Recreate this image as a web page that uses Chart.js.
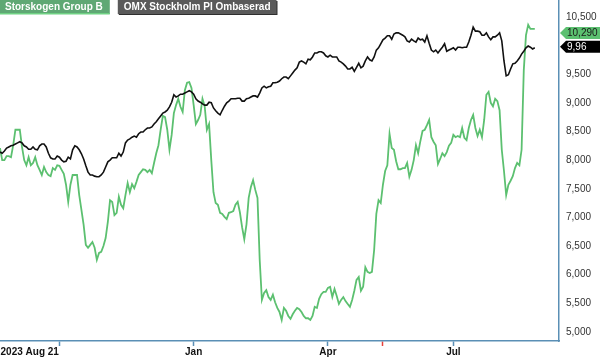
<!DOCTYPE html>
<html><head><meta charset="utf-8">
<script src="https://cdn.jsdelivr.net/npm/chart.js@4"></script>
<style>html,body{margin:0;padding:0;background:#fff;overflow:hidden}canvas{display:block}</style>
</head><body>
<canvas id="c" width="600" height="357"></canvas>
<script>
// one sample per trading day, starting 2023-08-21
const storskogen = [
8210,8000,8000,8070,8070,8050,8260,8530,8530,8530,
8230,8000,7910,8050,7910,7950,8050,7910,7830,7740,
7880,7790,7740,7720,7860,7830,7910,7900,7830,7760,
7570,7270,7570,7740,7740,7740,7390,7130,6870,6520,
6470,6520,6570,6470,6260,6380,6400,6500,6640,6920,
7300,7270,7040,7080,7360,7220,7160,7390,7600,7440,
7580,7510,7620,7740,7790,7840,7830,7790,7830,7770,
7950,8120,8260,8530,8770,8750,8530,8180,8440,8820,
8960,9070,8930,8840,9220,9350,9360,9260,8960,8630,
8700,8790,9070,8940,8530,8630,8000,7440,7250,7220,
7080,7060,7010,6970,7080,7090,7110,7220,7270,7090,
6830,6620,6880,7340,7530,7650,7480,7340,6260,5560,
5680,5730,5610,5560,5650,5520,5420,5350,5210,5420,
5370,5280,5230,5310,5370,5420,5400,5350,5280,5240,
5240,5210,5280,5440,5420,5580,5660,5700,5700,5770,
5790,5610,5750,5630,5490,5560,5610,5540,5490,5440,
5560,5720,5910,5960,5720,5790,6130,6050,6030,6050,
6430,7060,7300,7250,7570,7810,7910,8460,8210,8180,
7980,7840,7840,7860,7860,7950,7710,7830,8000,8260,
8120,8330,8510,8530,8610,8700,8400,8320,8260,7930,
8020,8120,8070,8140,8250,8300,8440,8400,8420,8400,
8560,8390,8350,8560,8700,8790,8560,8420,8530,8400,
8700,9140,9190,9000,8940,9070,9030,8870,8180,7810,
7390,7570,7640,7720,7860,7950,7910,8180,9570,10180,
10360,10290,10290,10290
];
const omxRebased = [
8140,8120,8160,8210,8230,8250,8260,8280,8300,8320,
8300,8250,8230,8190,8190,8230,8190,8180,8250,8280,
8280,8230,8120,8040,8020,8020,8070,8050,8000,7970,
7980,8050,8020,8180,8250,8230,8180,8110,8020,7900,
7790,7740,7740,7720,7710,7710,7740,7790,7880,7970,
8000,8040,8040,8040,8120,8070,8140,8300,8350,8370,
8400,8420,8400,8460,8490,8490,8530,8560,8560,8580,
8630,8670,8720,8770,8820,8840,8870,8930,9010,9140,
9100,9120,9150,9150,9170,9190,9210,9190,9150,9070,
9030,9010,8980,8960,8960,9010,9000,8910,8860,8820,
8790,8870,8940,9000,9030,9070,9070,9070,9080,9080,
9030,9030,9070,9080,9100,9120,9120,9100,9170,9260,
9290,9260,9280,9290,9350,9350,9360,9380,9420,9450,
9450,9420,9470,9520,9570,9610,9710,9730,9710,9680,
9760,9750,9800,9870,9870,9890,9890,9870,9820,9800,
9830,9800,9800,9800,9730,9710,9680,9640,9590,9590,
9620,9550,9620,9690,9610,9640,9730,9800,9750,9730,
9800,9920,9960,10030,10100,10130,10170,10170,10110,10200,
10220,10220,10200,10180,10150,10080,10060,10110,10080,10060,
10130,10100,10110,10060,10170,10040,9920,9890,9920,9870,
9920,9970,10030,9900,9920,9940,9960,9920,9970,9970,
9960,9970,9970,10060,10180,10320,10250,10250,10240,10180,
10180,10220,10150,10100,10150,10150,10180,10220,10080,9730,
9470,9490,9590,9680,9690,9730,9780,9850,9900,9960,
9990,9970,9940,9960
];
const seriesNames = ['Storskogen Group B', 'OMX Stockholm PI Ombaserad'];
// x ticks in trading days from start
const xTickDays = [13.5, 27, 88, 149, 174, 206];
const xTickLabels = ['2023 Aug 21', '', 'Jan', 'Apr', '', 'Jul'];
const xAxisDays = [0, 254];
const yTickValues = [5000, 5500, 6000, 6500, 7000, 7500, 8000, 8500, 9000, 9500, 10500];
const yRange = [4843, 10794];
const lastLabels = ['10,290', '9,96'];

const FONT = '"Liberation Sans", Arial, sans-serif';
const AXIS = '#5a8fb5';
const GREEN = '#5cc070';

const toPoints = arr => arr.map((v, i) => ({x: i, y: v}));
const noPad = s => { s.paddingTop = 0; s.paddingBottom = 0; s.paddingLeft = 0; s.paddingRight = 0; };

const overlay = {
  id: 'overlay',
  afterDraw(chart) {
    const ctx = chart.ctx, ys = chart.scales.y, ca = chart.chartArea;
    ctx.save();
    // legend boxes
    ctx.font = 'bold 10px ' + FONT;
    ctx.textBaseline = 'middle';
    ctx.textAlign = 'left';
    const w1 = ctx.measureText(seriesNames[0]).width + 12;
    ctx.fillStyle = '#5fa874';
    ctx.fillRect(0, 0, w1, 14);
    ctx.fillStyle = '#6fd283';
    ctx.fillRect(0, 13, w1, 1.5);
    ctx.fillStyle = '#fff';
    ctx.fillText(seriesNames[0], 5, 7);
    const x2 = w1 + 8;
    const w2 = ctx.measureText(seriesNames[1]).width + 12;
    ctx.fillStyle = '#2e2e2e';
    ctx.fillRect(x2 + 1, 1, w2, 14);
    ctx.fillStyle = '#5a5a5a';
    ctx.fillRect(x2, 0, w2, 14);
    ctx.fillStyle = '#fff';
    ctx.fillText(seriesNames[1], x2 + 6, 7);
    // last value badges
    const badge = (yc, bg, fg, text) => {
      const l = ca.right + 1;
      ctx.beginPath();
      ctx.moveTo(l, yc);
      ctx.lineTo(l + 6, yc - 6);
      ctx.lineTo(600, yc - 6);
      ctx.lineTo(600, yc + 6);
      ctx.lineTo(l + 6, yc + 6);
      ctx.closePath();
      ctx.fillStyle = bg;
      ctx.fill();
      ctx.fillStyle = fg;
      ctx.font = '10px ' + FONT;
      ctx.fillText(text, ca.right + 8, yc + 0.5);
    };
    badge(ys.getPixelForValue(storskogen[storskogen.length - 1]) + 4, GREEN, '#1a1a1a', lastLabels[0]);
    badge(ys.getPixelForValue(omxRebased[omxRebased.length - 1]) - 1, '#000', '#fff', lastLabels[1]);
    ctx.restore();
  }
};

new Chart(document.getElementById('c'), {
  type: 'line',
  data: {
    datasets: [
      {label: seriesNames[1], data: toPoints(omxRebased), borderColor: '#111', borderWidth: 1.6,
       pointRadius: 0, tension: 0, fill: false},
      {label: seriesNames[0], data: toPoints(storskogen), borderColor: GREEN, borderWidth: 1.8,
       pointRadius: 0, tension: 0, fill: false}
    ]
  },
  options: {
    responsive: false, animation: false, devicePixelRatio: 1,
    layout: {padding: 0},
    plugins: {legend: {display: false}, tooltip: {enabled: false}},
    scales: {
      x: {
        type: 'linear', min: xAxisDays[0], max: xAxisDays[1],
        afterBuildTicks: s => { s.ticks = xTickDays.map(v => ({value: v})); },
        afterFit: s => { s.height = 16; noPad(s); },
        grid: {display: true, drawOnChartArea: false, drawTicks: true, tickLength: 5, tickWidth: 1.5,
               tickColor: c => c.index === 0 ? 'rgba(0,0,0,0)' : (c.index === 4 ? '#e8403a' : AXIS)},
        border: {display: true, color: AXIS, width: 1.5},
        ticks: {autoSkip: false, maxRotation: 0, minRotation: 0, padding: 0, color: '#111',
                font: {family: FONT, size: 10, weight: 'bold'},
                callback: (v, i) => xTickLabels[i]}
      },
      y: {
        position: 'right', min: yRange[0], max: yRange[1],
        afterBuildTicks: s => { s.ticks = yTickValues.map(v => ({value: v})); },
        afterFit: s => { s.width = 41; noPad(s); },
        grid: {display: false, drawTicks: false},
        border: {display: true, color: AXIS, width: 1.5},
        ticks: {padding: 7, color: '#333', font: {family: FONT, size: 10},
                callback: v => v.toLocaleString('en-US')}
      }
    }
  },
  plugins: [overlay]
});
</script>
</body></html>
